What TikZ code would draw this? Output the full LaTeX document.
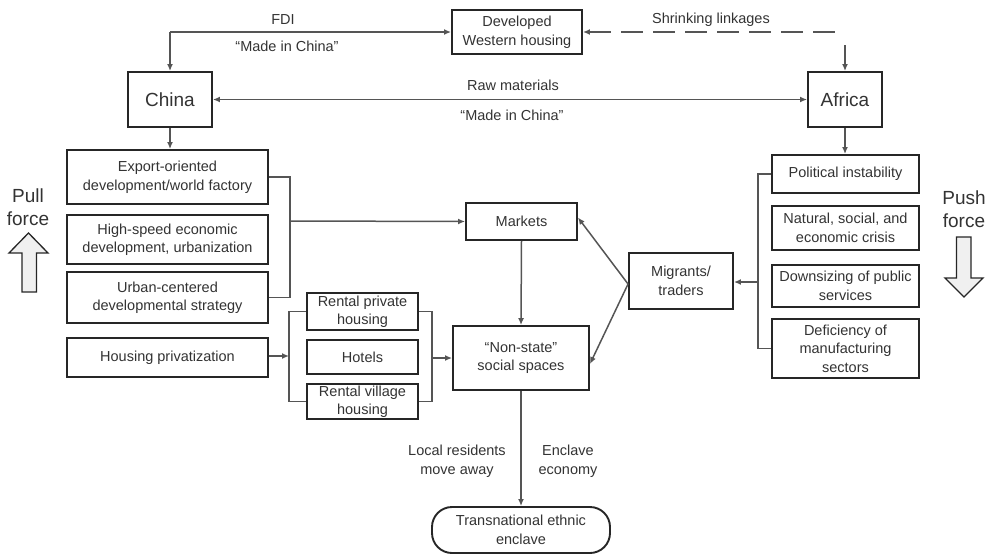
\documentclass[tikz,border=0pt]{standalone}
\usepackage{fontspec}
\setmainfont{Liberation Sans}
\usetikzlibrary{arrows.meta}
\definecolor{txt}{HTML}{333333}
\definecolor{ln}{HTML}{555555}
\definecolor{bd}{HTML}{262626}
\begin{document}
\begin{tikzpicture}[x=1pt,y=-1pt,
  box/.style={draw=bd, line width=1.9pt, fill=white, inner sep=0pt, align=center, text=txt,
    font=\fontsize{14.5}{18.5}\selectfont},
  bigbox/.style={box, font=\fontsize{19}{22}\selectfont},
  conn/.style={draw=ln, line width=1.5pt},
  arr/.style={conn, -{Latex[length=7pt,width=6pt]}},
  lbl/.style={text=txt, inner sep=0pt, align=center, font=\fontsize{14.5}{18.5}\selectfont},
  biglbl/.style={lbl, font=\fontsize{19}{23}\selectfont},
  fat/.style={draw=bd, line width=1.3pt, fill=gray!12, line join=miter}
]
\useasboundingbox (0,0) rectangle (988,555);

% nodes
\node[box, minimum width=130pt, minimum height=44pt] (dev) at (517,32) {Developed\\Western housing};
\node[bigbox, minimum width=84pt, minimum height=55pt] (china) at (170,99.5) {China};
\node[bigbox, minimum width=74pt, minimum height=55pt] (africa) at (845,99.5) {Africa};

\node[box, minimum width=201pt, minimum height=54pt] (exp) at (167.5,177) {Export-oriented\\development/world factory};
\node[box, minimum width=201pt, minimum height=49pt] (hs) at (167.5,239.5) {High-speed economic\\development, urbanization};
\node[box, minimum width=201pt, minimum height=51pt] (urb) at (167.5,297.5) {Urban-centered\\developmental strategy};
\node[box, minimum width=201pt, minimum height=39pt] (hp) at (167.5,357.5) {Housing privatization};

\node[box, minimum width=111pt, minimum height=37pt] (rph) at (362.5,311.5) {Rental private\\housing};
\node[box, minimum width=111pt, minimum height=34pt] (hot) at (362.5,357) {Hotels};
\node[box, minimum width=111pt, minimum height=35pt] (rvh) at (362.5,401.5) {Rental village\\housing};

\node[box, minimum width=111pt, minimum height=37pt] (mk) at (521.5,221.5) {Markets};
\node[box, minimum width=136pt, minimum height=64pt] (ns) at (521,358) {``Non-state''\\social spaces};
\node[box, minimum width=104pt, minimum height=56pt] (mig) at (681,281) {Migrants/\\traders};

\node[box, minimum width=147pt, minimum height=38pt] (pol) at (845.5,174) {Political instability};
\node[box, minimum width=147pt, minimum height=44pt] (nat) at (845.5,228) {Natural, social, and\\economic crisis};
\node[box, minimum width=147pt, minimum height=42pt] (dwn) at (845.5,286) {Downsizing of public\\services};
\node[box, minimum width=147pt, minimum height=59pt] (def) at (845.5,348.5) {Deficiency of\\manufacturing\\sectors};

\node[box, rounded corners=20pt, minimum width=178pt, minimum height=46pt] (tee) at (521,530) {Transnational ethnic\\enclave};

% labels
\node[lbl] (fdi) at (283,20) {FDI};
\node[lbl] (mic1) at (287,46) {``Made in China''};
\node[lbl] (raw) at (513,85) {Raw materials};
\node[lbl] (mic2) at (512,115) {``Made in China''};
\node[lbl] (shr) at (711,20) {Shrinking linkages};
\node[lbl] (loc) at (457,461) {Local residents\\move away};
\node[lbl] (enc) at (568,461) {Enclave\\economy};
\node[biglbl] (pull) at (28,207) {Pull\\force};
\node[biglbl] (push) at (964,209) {Push\\force};

% coordinates
\coordinate (fdic) at (china.north |- dev.west);
\coordinate (shc) at (africa.north |- dev.east);
\coordinate (shv) at ([yshift=-13pt]shc);
\coordinate (bl) at (290,221);
\coordinate (hpb) at (289,356);
\coordinate (hrb) at (432,358);
\coordinate (rb) at (758,282);

% top connectors
\draw[arr] (fdic) -- (dev.west);
\draw[arr] (fdic) -- (china.north);
\draw[conn, dash pattern=on 22pt off 10pt, {Latex[length=7pt,width=6pt]}-] (dev.east) -- (shc);
\draw[arr] (shv) -- (africa.north);
\draw[conn, {Latex[length=7pt,width=6pt]}-{Latex[length=7pt,width=6pt]}] (china.east) -- (africa.west);
\draw[arr] (china.south) -- (china.south |- exp.north);
\draw[arr] (africa.south) -- (africa.south |- pol.north);

% left bracket
\draw[conn] (exp.east) -| (bl |- exp.east) -- (bl |- urb.east) -- (urb.east);
\draw[arr] (bl) -- (mk.west);

% housing brackets
\draw[arr] (hp.east |- hpb) -- (hpb);
\draw[conn] (rph.west) -- (hpb |- rph.west) -- (hpb |- rvh.west) -- (rvh.west);
\draw[conn] (rph.east) -- (hrb |- rph.east) -- (hrb |- rvh.east) -- (rvh.east);
\draw[arr] (hrb) -- (ns.west |- hrb);

% middle
\draw[arr] (mk.south) -- (ns.north);
\draw[arr] ([yshift=-3pt]mig.west) -- ([yshift=4pt]mk.east);
\draw[arr] ([yshift=-3pt]mig.west) -- ([yshift=-6pt]ns.east);
\draw[arr] (ns.south) -- (tee.north);

% right bracket
\draw[conn] (pol.west) -- (rb |- pol.west) -- (rb |- def.west) -- (def.west);
\draw[arr] (rb) -- (mig.east |- rb);

% big arrows
\draw[fat] (28.5,233) -- (48,253) -- (36.5,253) -- (36.5,292) -- (22,292) -- (22,253) -- (9,253) -- cycle;
\draw[fat] (964,297) -- (983,278) -- (971,278) -- (971,237) -- (956.5,237) -- (956.5,278) -- (945,278) -- cycle;
\end{tikzpicture}
\end{document}
